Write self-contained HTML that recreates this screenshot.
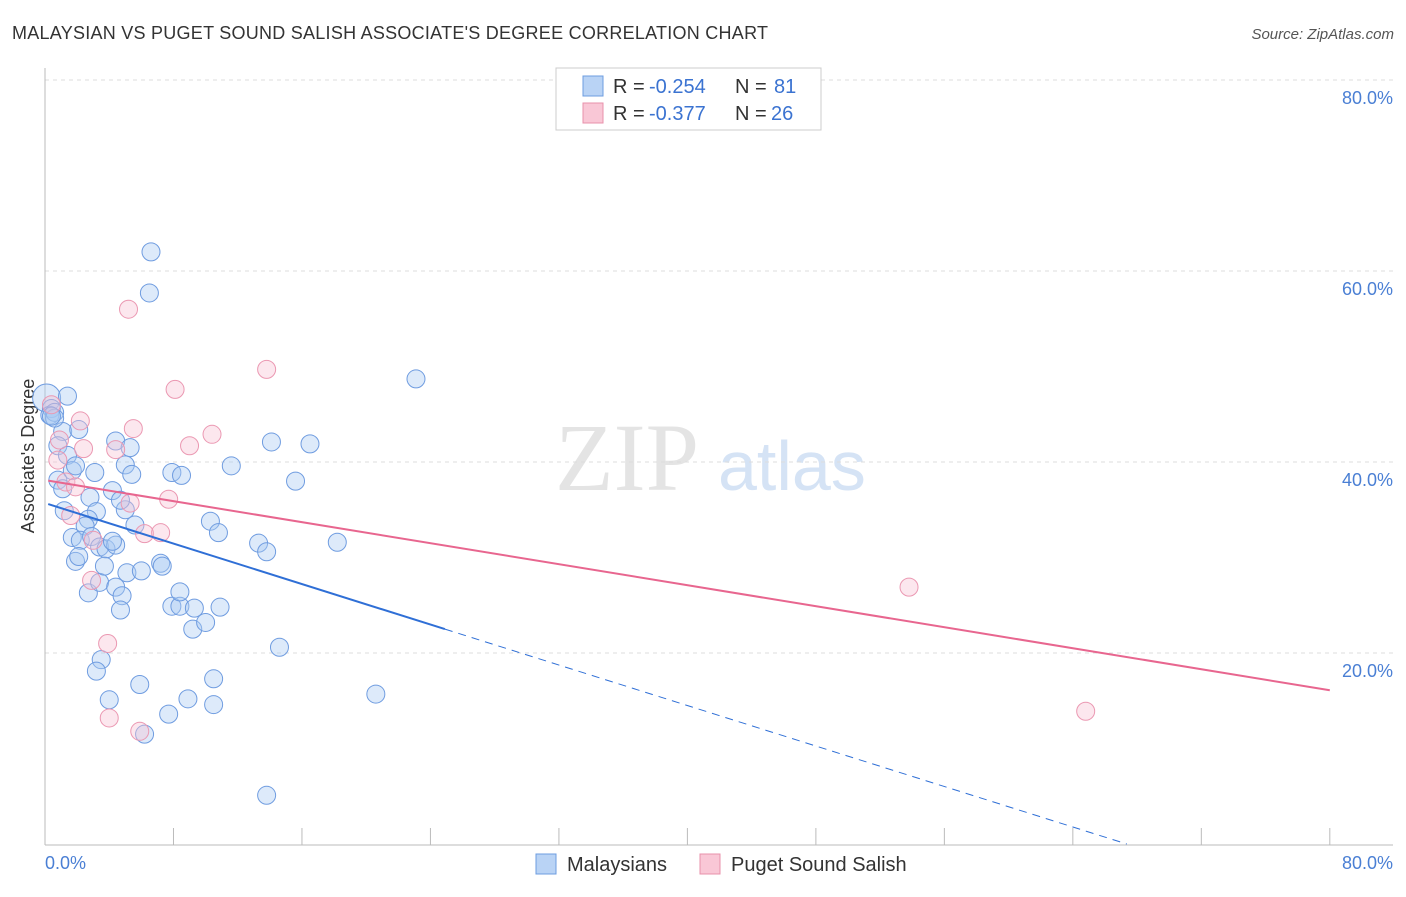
<!DOCTYPE html>
<html><head><meta charset="utf-8"><style>
body{margin:0;background:#fff;font-family:"Liberation Sans",sans-serif;}
</style></head><body>
<svg width="1406" height="892" xmlns="http://www.w3.org/2000/svg" font-family="Liberation Sans, sans-serif">
<text x="12" y="39" font-size="18" fill="#333" textLength="756">MALAYSIAN VS PUGET SOUND SALISH ASSOCIATE'S DEGREE CORRELATION CHART</text>
<text x="1394" y="39" font-size="15" fill="#555" font-style="italic" text-anchor="end">Source: ZipAtlas.com</text>
<text x="555" y="490" font-size="96" fill="#e4e4e4" font-family="Liberation Serif, serif">ZIP</text>
<text x="718" y="490" font-size="70" fill="#d5e3f5">atlas</text>
<g id="grid"></g>
<line x1="45" y1="68" x2="45" y2="845" stroke="#bbb"/>
<line x1="45" y1="845" x2="1393" y2="845" stroke="#bbb"/>
<g id="xticks"></g>
<text transform="translate(34,456) rotate(-90)" font-size="18" fill="#333" text-anchor="middle">Associate's Degree</text>
<text x="45" y="869" font-size="18" fill="#4a7fd4">0.0%</text>
<text x="1393" y="869" font-size="18" fill="#4a7fd4" text-anchor="end">80.0%</text>
<g id="pts"></g>
<g id="lines"></g>
<g>
<rect x="556" y="68" width="265" height="62" fill="#fff" stroke="#ccc"/>
<rect x="583" y="76" width="20" height="20" fill="#b9d3f5" stroke="#6d9de0"/>
<rect x="583" y="103" width="20" height="20" fill="#f9c7d6" stroke="#e890ab"/>
<text x="613" y="93" font-size="20" fill="#333">R =</text>
<text x="649" y="93" font-size="20" fill="#3b73d1">-0.254</text>
<text x="735" y="93" font-size="20" fill="#333">N =</text>
<text x="774" y="93" font-size="20" fill="#3b73d1">81</text>
<text x="613" y="120" font-size="20" fill="#333">R =</text>
<text x="649" y="120" font-size="20" fill="#3b73d1">-0.377</text>
<text x="735" y="120" font-size="20" fill="#333">N =</text>
<text x="771" y="120" font-size="20" fill="#3b73d1">26</text>
</g>
<g>
<rect x="536" y="854" width="20" height="20" fill="#b9d3f5" stroke="#6d9de0"/>
<text x="567" y="871" font-size="20" fill="#333">Malaysians</text>
<rect x="700" y="854" width="20" height="20" fill="#f9c7d6" stroke="#e890ab"/>
<text x="731" y="871" font-size="20" fill="#333">Puget Sound Salish</text>
</g>
</svg>
<script>
const yTicks=[20,40,60,80];
const yTickLabels=["20.0%","40.0%","60.0%","80.0%"];
const xTicks=[0,8,16,24,32,40,48,56,64,72,80];
const blueX=[0.1,0.4,0.3,0.6,1.4,1.1,0.8,1.4,1.7,1.9,3.1,1.2,2.8,3.2,2.7,2.5,1.7,2.2,2.9,3.4,3.8,4.4,4.2,1.9,2.1,2.7,3.4,3.7,4.4,4.8,4.7,5.1,6.0,5.6,5.0,4.2,4.4,5.3,5.0,5.4,7.2,7.3,7.9,8.5,10.3,10.8,11.6,7.9,8.4,8.4,9.3,9.2,10.0,10.9,3.5,3.2,4.0,5.9,8.9,7.7,10.5,10.5,6.2,6.6,6.5,23.1,14.1,16.5,15.6,13.3,13.8,18.2,14.6,20.6,13.8,0.8,1.1,0.6,0.4,2.1,4.7];
const blueY=[46.7,45.6,44.9,45.2,46.9,43.2,41.7,40.7,39.1,39.6,38.9,34.9,36.3,34.8,34.0,33.3,32.1,31.8,32.2,31.1,30.9,31.3,31.7,29.6,30.1,26.3,27.4,29.1,26.9,26.0,24.5,28.4,28.6,33.4,35.0,37.0,42.2,41.5,39.7,38.7,29.4,29.1,38.9,38.6,33.8,32.6,39.6,24.9,24.9,26.4,24.7,22.5,23.2,24.8,19.3,18.1,15.1,16.7,15.2,13.6,17.3,14.6,11.5,62.0,57.7,48.7,42.1,41.9,38.0,31.5,30.6,31.6,20.6,15.7,5.1,38.1,37.2,44.6,44.8,43.4,36.0];
const pinkX=[5.2,13.8,8.1,2.2,5.5,10.4,9.0,2.4,4.4,0.8,1.3,1.9,7.7,5.3,1.6,6.2,7.2,3.0,2.9,3.9,4.0,5.9,53.8,64.8,0.4,0.9];
const pinkY=[56.0,49.7,47.6,44.3,43.5,42.9,41.7,41.4,41.3,40.2,37.9,37.4,36.1,35.7,34.4,32.5,32.6,31.8,27.6,21.0,13.2,11.8,26.9,13.9,46.0,42.3];
const blueLine=[35.7,-0.53], pinkLine=[38.1,-0.275];
const NS="http://www.w3.org/2000/svg";
const sx=v=>45+v*16.06, sy=v=>844-v*9.55;
function mk(t,a,p){const e=document.createElementNS(NS,t);for(const k in a)e.setAttribute(k,a[k]);document.getElementById(p).appendChild(e);return e;}
yTicks.forEach((t,i)=>{
 const g=mk('line',{x1:45,x2:1393,y1:sy(t),y2:sy(t),stroke:'#ddd','stroke-dasharray':'4,4'},'grid');
 
 
 const l=mk('text',{x:1393,y:sy(t)+24,'font-size':18,fill:'#4a7fd4','text-anchor':'end'},'grid');
 l.textContent=yTickLabels[i];
 
 
});
xTicks.forEach(t=>{
 const e=mk('line',{x1:sx(t),x2:sx(t),y1:828,y2:845,stroke:'#bbb'},'xticks');
 
 
});
blueX.forEach((x,i)=>{
 const c=mk('circle',{cx:sx(x),cy:sy(blueY[i]),r:i==0?14:9,fill:'rgba(170,202,242,0.4)',stroke:'#6f9ce0','stroke-width':1},'pts');
 
 
});
pinkX.forEach((x,i)=>{
 const c=mk('circle',{cx:sx(x),cy:sy(pinkY[i]),r:9,fill:'rgba(248,195,212,0.4)',stroke:'#eb98b2','stroke-width':1},'pts');
 
 
});
const bEnd=24.9, bZero=-blueLine[0]/blueLine[1];
let e=mk('line',{x1:sx(0.2),y1:sy(blueLine[0]+blueLine[1]*0.2),x2:sx(bEnd),y2:sy(blueLine[0]+blueLine[1]*bEnd),stroke:'#2f6fd6','stroke-width':2},'lines');


e=mk('line',{x1:sx(bEnd),y1:sy(blueLine[0]+blueLine[1]*bEnd),x2:sx(bZero),y2:sy(0),stroke:'#2f6fd6','stroke-width':1,'stroke-dasharray':'8,6'},'lines');


e=mk('line',{x1:sx(0.2),y1:sy(pinkLine[0]+pinkLine[1]*0.2),x2:sx(80),y2:sy(pinkLine[0]+pinkLine[1]*80),stroke:'#e8668f','stroke-width':2},'lines');


</script>
</body></html>
